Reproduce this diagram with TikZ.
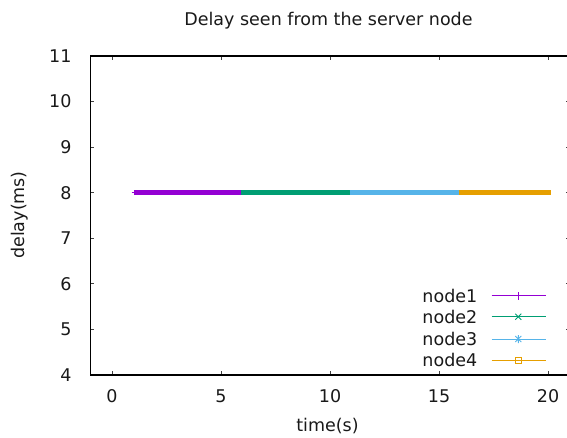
\documentclass[tikz,border=0pt]{standalone}
\usepackage{fontspec}
\setmainfont{DejaVu Sans}
\usetikzlibrary{calc}
\definecolor{cA}{HTML}{9400D3}
\definecolor{cB}{HTML}{009E73}
\definecolor{cC}{HTML}{56B4E9}
\definecolor{cD}{HTML}{E69F00}
\tikzset{
  lbl/.style={inner sep=0pt, font=\fontsize{17.5}{17.5}\selectfont, text=black!90},
  tck/.style={line width=0.8pt, black!75},
  frame/.style={line width=1.1pt, black},
  series/.style={line width=5.5pt},
  sample/.style={line width=1pt},
}
\begin{document}
\begin{tikzpicture}[x=1pt,y=1pt]
\useasboundingbox (0,0) rectangle (567,437);
% plot coordinates: x = time(s), y = delay(ms)
\begin{scope}[shift={(112,-120.28)}, x=21.8pt, y=45.57pt]
  % data series
  \draw[cA, line width=1pt] (0.9,8) -- (1.0,8);
  \draw[series, cA] (1.0,8) -- (5.9,8);
  \draw[series, cB] (5.9,8) -- (10.9,8);
  \draw[series, cC] (10.9,8) -- (15.9,8);
  \draw[series, cD] (15.9,8) -- (20.15,8);
  % ticks (mirrored on all four sides)
  \foreach \t in {0,5,...,20} {
    \draw[tck] (\t,4) -- ++(0,4pt);
    \draw[tck] (\t,11) -- ++(0,-4pt);
    \node[lbl, anchor=center] (xt\t) at ($(\t,4)+(0,-21pt)$) {\t};
  }
  \foreach \d in {4,...,11} {
    \draw[tck] (-1,\d) -- ++(4pt,0);
    \draw[tck] (21,\d) -- ++(-4pt,0);
    \node[lbl, anchor=east] (yt\d) at ($(-1,\d)+(-18.5pt,0)$) {\d};
  }
  % frame
  \draw[frame] (-1,4) rectangle (21,11);
\end{scope}
\node[lbl] (title) at (328.5,416.5) {Delay seen from the server node};
\node[lbl] (xlabel) at (327.5,10.5) {time(s)};
\node[lbl, rotate=90] (ylabel) at (19.5,222) {delay(ms)};
% legend
\foreach \n/\c/\yy in {1/cA/141.3, 2/cB/120.3, 3/cC/98, 4/cD/77} {
  \node[lbl, anchor=east] (key\n) at (477.5,\yy) {node\n};
  \draw[sample, \c] (491.7,\yy) -- (545.7,\yy);
}
% legend point markers
\draw[cA, line width=0.9pt] (518.3,137.3) -- (518.3,145.3);
\draw[cB, line width=0.9pt] (515.3,117.3) -- (521.3,123.3) (515.3,123.3) -- (521.3,117.3);
\draw[cC, line width=0.9pt] (515.3,95) -- (521.3,101) (515.3,101) -- (521.3,95) (518.3,94) -- (518.3,102);
\draw[cD, line width=0.9pt] (515.3,74) rectangle (521.3,80);
\end{tikzpicture}
\end{document}
